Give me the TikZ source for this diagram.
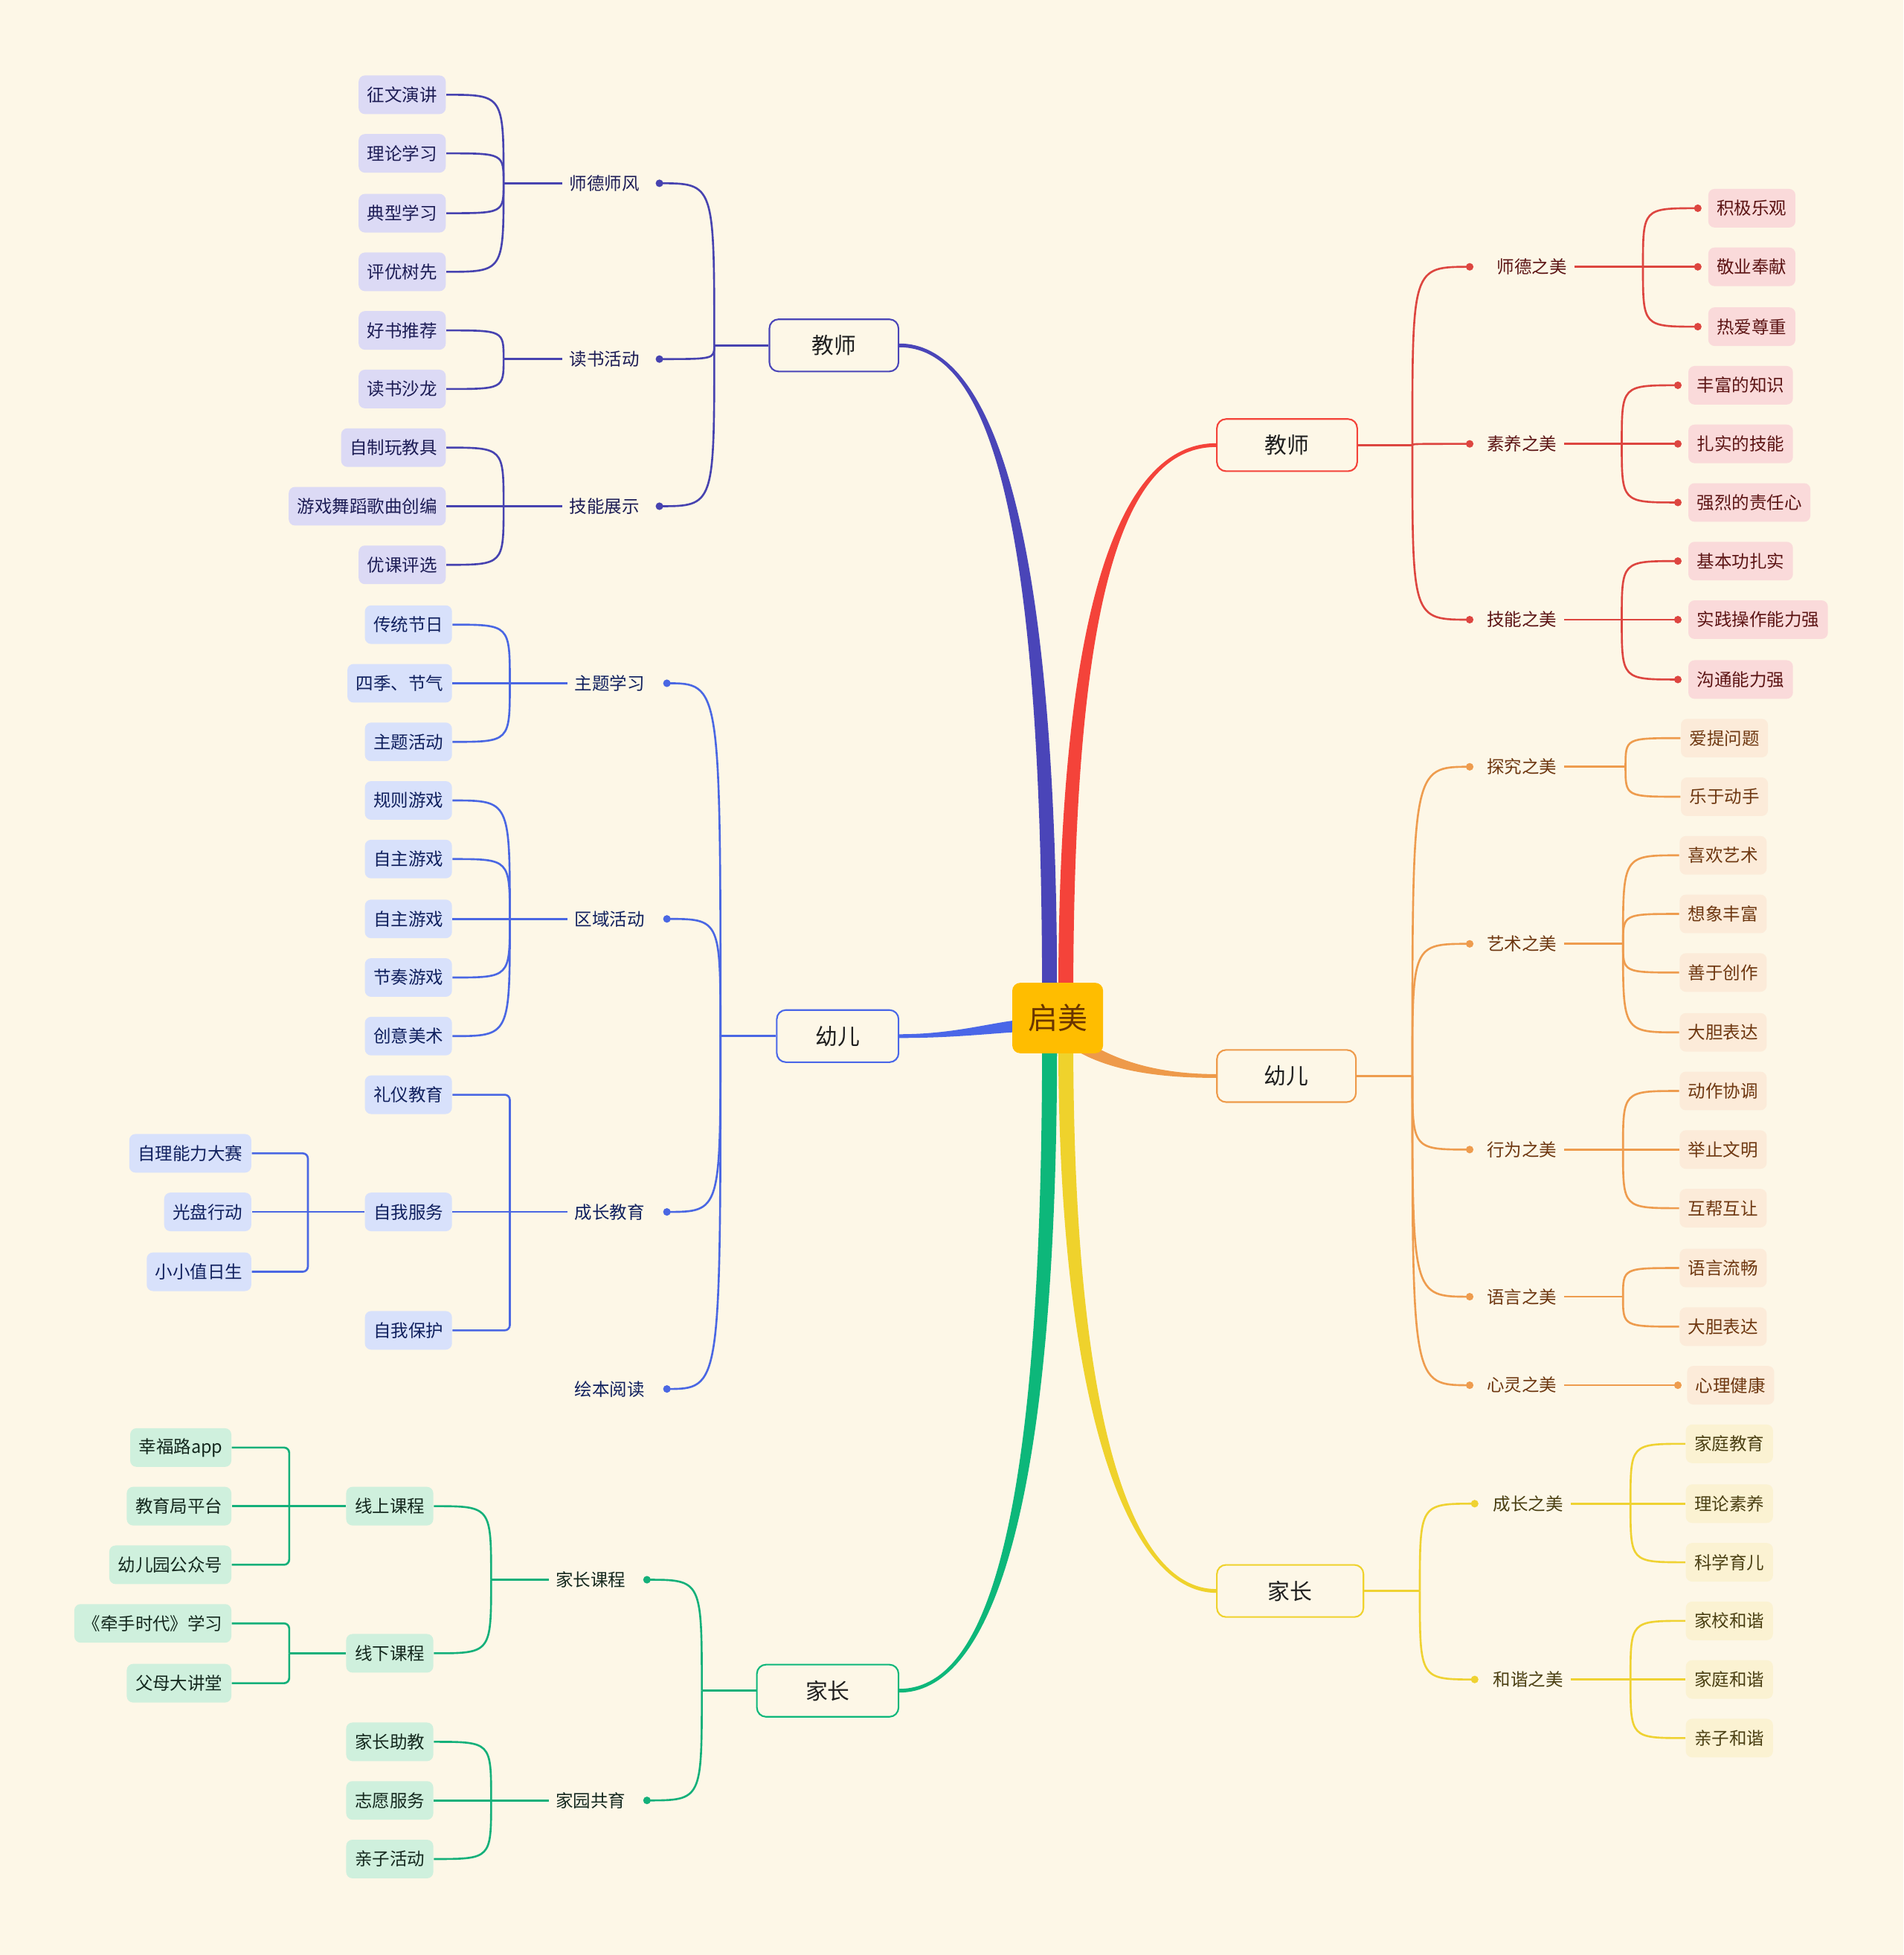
\documentclass[tikz,border=0pt]{standalone}
\usepackage{fontspec}
\setmainfont{Noto Sans CJK SC}
\usetikzlibrary{calc}

\definecolor{paper}{HTML}{FDF7E7}
\definecolor{rootfill}{HTML}{FFBD00}
\definecolor{roottext}{HTML}{6A3500}
\definecolor{indigoM}{HTML}{4A45B8}
\definecolor{indigoL}{HTML}{4743B0}
\definecolor{indigoLeaf}{HTML}{DCDAF5}
\definecolor{indigoText}{HTML}{1C1C55}
\definecolor{blueM}{HTML}{4A67E8}
\definecolor{blueL}{HTML}{4A67E3}
\definecolor{blueLeaf}{HTML}{D8E1FB}
\definecolor{blueText}{HTML}{10205E}
\definecolor{greenM}{HTML}{0DB77A}
\definecolor{greenL}{HTML}{14B07A}
\definecolor{greenLeaf}{HTML}{CFF0DD}
\definecolor{greenText}{HTML}{14281E}
\definecolor{redM}{HTML}{F4433A}
\definecolor{redL}{HTML}{DD4640}
\definecolor{redLeaf}{HTML}{FADADA}
\definecolor{redText}{HTML}{5C1414}
\definecolor{orangeM}{HTML}{EE9A4A}
\definecolor{orangeL}{HTML}{EE9C4E}
\definecolor{orangeLeaf}{HTML}{FCEBD9}
\definecolor{orangeText}{HTML}{6E3710}
\definecolor{yellowM}{HTML}{EFD22C}
\definecolor{yellowL}{HTML}{EFD232}
\definecolor{yellowLeaf}{HTML}{FBF2D2}
\definecolor{yellowText}{HTML}{4A3F12}

\pgfdeclarelayer{paper}
\pgfdeclarelayer{links}
\pgfsetlayers{paper,links,main}

% tapered main branch: colour, start, c1, c2, end, start offset, end offset
\newcommand\limb[7]{%
  \fill[#1] ($(#2)+#6$) .. controls ($(#3)+#6$) and ($(#4)+#7$) .. ($(#5)+#7$)
    -- ($(#5)-#7$) .. controls ($(#4)-#7$) and ($(#3)-#6$) .. ($(#2)-#6$) -- cycle;}

\tikzset{
  root/.style={fill=rootfill, text=roottext, rounded corners=3pt, minimum width=34.8pt,
    minimum height=27pt, inner sep=0pt, font=\fontsize{11.4}{13}\selectfont},
  topic/.style={draw=#1, fill=paper, line width=0.6pt, rounded corners=3.5pt, minimum height=20pt,
    inner sep=0pt, text=black!88, font=\fontsize{8.5}{10}\selectfont},
  sub/.style={text=#1, inner xsep=2.6pt, inner ysep=1pt},
  leaf/.style 2 args={fill=#1, text=#2, rounded corners=2.4pt, minimum height=14.8pt,
    inner xsep=3.3pt, inner ysep=0pt},
  knob/.style={circle, fill=#1, inner sep=0pt, minimum size=2.9pt},
  link/.style={draw=#1, line width=0.75pt},
  iSub/.style={sub=indigoText}, iLeaf/.style={leaf={indigoLeaf}{indigoText}, anchor=east},
  iKnob/.style={knob=indigoL}, iLink/.style={link=indigoL},
  bSub/.style={sub=blueText}, bLeaf/.style={leaf={blueLeaf}{blueText}, anchor=east},
  bKnob/.style={knob=blueL}, bLink/.style={link=blueL},
  gSub/.style={sub=greenText}, gLeaf/.style={leaf={greenLeaf}{greenText}, anchor=east},
  gKnob/.style={knob=greenL}, gLink/.style={link=greenL},
  rSub/.style={sub=redText}, rLeaf/.style={leaf={redLeaf}{redText}, anchor=west},
  rKnob/.style={knob=redL}, rLink/.style={link=redL},
  oSub/.style={sub=orangeText}, oLeaf/.style={leaf={orangeLeaf}{orangeText}, anchor=west},
  oKnob/.style={knob=orangeL}, oLink/.style={link=orangeL},
  ySub/.style={sub=yellowText}, yLeaf/.style={leaf={yellowLeaf}{yellowText}, anchor=west},
  yKnob/.style={knob=yellowL}, yLink/.style={link=yellowL},
}

\begin{document}
\begin{tikzpicture}[x=0.0168cm, y=-0.0168cm,
  every node/.style={font=\fontsize{6.7}{8}\selectfont}]

\begin{pgfonlayer}{paper}
\fill[paper] (0,0) rectangle (1527,1568);
\end{pgfonlayer}
\useasboundingbox (0,0) rectangle (1527,1568);

% centre and main topics
\node[root] (root) at (848.5,816.5) {启美};
\node[topic=indigoM, minimum width=49.5pt] (tL) at (669,277) {教师};
\node[topic=redM, minimum width=53.8pt] (tR) at (1032.5,357) {教师};
\node[topic=blueM, minimum width=46.7pt] (yL) at (672,831) {幼儿};
\node[topic=orangeM, minimum width=53.3pt] (yR) at (1032,863) {幼儿};
\node[topic=greenM, minimum width=54.3pt] (jL) at (664,1356) {家长};
\node[topic=yellowM, minimum width=56.2pt] (jR) at (1035,1276) {家长};

% teachers, left
\coordinate (tLj) at (573,277);
\node[iSub] (sdsf) at (485,147) {师德师风};
\node[iSub] (dshd) at (485,288) {读书活动};
\node[iSub] (jnzs) at (485,406) {技能展示};
\node[iKnob] (sdsfK) at (529,147) {};
\node[iKnob] (dshdK) at (529,288) {};
\node[iKnob] (jnzsK) at (529,406) {};
\coordinate (sdsfj) at (404,147);
\coordinate (dshdj) at (404,288);
\coordinate (jnzsj) at (404,406);
\node[iLeaf] (zwyj) at (358,76) {征文演讲};
\node[iLeaf] (llxx) at (358,123) {理论学习};
\node[iLeaf] (dxxx) at (358,171) {典型学习};
\node[iLeaf] (pysx) at (358,218) {评优树先};
\node[iLeaf] (hstj) at (358,265) {好书推荐};
\node[iLeaf] (dssl) at (358,312) {读书沙龙};
\node[iLeaf] (zzwj) at (358,359) {自制玩教具};
\node[iLeaf] (yxwd) at (358,406) {游戏舞蹈歌曲创编};
\node[iLeaf] (ykpx) at (358,453) {优课评选};

% children, left
\coordinate (yLj) at (578,831);
\node[bSub] (ztxx) at (489,548) {主题学习};
\node[bSub] (qyhd) at (489,737) {区域活动};
\node[bSub] (czjy) at (489,972) {成长教育};
\node[bSub] (hbyd) at (489,1114) {绘本阅读};
\node[bKnob] (ztxxK) at (535,548) {};
\node[bKnob] (qyhdK) at (535,737) {};
\node[bKnob] (czjyK) at (535,972) {};
\node[bKnob] (hbydK) at (535,1114) {};
\coordinate (ztxxj) at (409,548);
\coordinate (qyhdj) at (409,737);
\coordinate (czjyj) at (409,972);
\node[bLeaf] (ctjr) at (363,501) {传统节日};
\node[bLeaf] (sjjq) at (363,548) {四季、节气};
\node[bLeaf] (zthd) at (363,595) {主题活动};
\node[bLeaf] (gzyx) at (363,642) {规则游戏};
\node[bLeaf] (zzyxA) at (363,689) {自主游戏};
\node[bLeaf] (zzyxB) at (363,737) {自主游戏};
\node[bLeaf] (jzyx) at (363,784) {节奏游戏};
\node[bLeaf] (cyms) at (363,831) {创意美术};
\node[bLeaf] (lyjy) at (363,878) {礼仪教育};
\node[bLeaf] (zwfw) at (363,972) {自我服务};
\node[bLeaf] (zwbh) at (363,1067) {自我保护};
\coordinate (zwfwj) at (247,972);
\node[bLeaf] (zlnl) at (202,925) {自理能力大赛};
\node[bLeaf] (gpxd) at (202,972) {光盘行动};
\node[bLeaf] (xxzr) at (202,1020) {小小值日生};

% parents, left
\coordinate (jLj) at (563,1356);
\node[gSub] (jzkc) at (474,1267) {家长课程};
\node[gSub] (jygy) at (474,1444) {家园共育};
\node[gKnob] (jzkcK) at (519,1267) {};
\node[gKnob] (jygyK) at (519,1444) {};
\coordinate (jzkcj) at (394,1267);
\coordinate (jygyj) at (394,1444);
\node[gLeaf] (xskc) at (348,1208) {线上课程};
\node[gLeaf] (xxkc) at (348,1326) {线下课程};
\node[gLeaf] (jzzj) at (348,1397) {家长助教};
\node[gLeaf] (zyfw) at (348,1444) {志愿服务};
\node[gLeaf] (qzhd) at (348,1491) {亲子活动};
\coordinate (xskcj) at (232,1208);
\coordinate (xxkcj) at (232,1326);
\node[gLeaf] (xflapp) at (186,1161) {幸福路app};
\node[gLeaf] (jyjpt) at (186,1208) {教育局平台};
\node[gLeaf] (yeygzh) at (186,1255) {幼儿园公众号};
\node[gLeaf] (qssd) at (186,1302) {《牵手时代》学习};
\node[gLeaf] (fmdjt) at (186,1350) {父母大讲堂};

% teachers, right
\coordinate (tRj) at (1133,357);
\node[rSub] (sdzm) at (1229,214) {师德之美};
\node[rSub] (syzm) at (1221,356) {素养之美};
\node[rSub] (jnzm) at (1221,497) {技能之美};
\node[rKnob] (sdzmK) at (1179,214) {};
\node[rKnob] (syzmK) at (1179,356) {};
\node[rKnob] (jnzmK) at (1179,497) {};
\coordinate (sdzmj) at (1318,214);
\coordinate (syzmj) at (1301,356);
\coordinate (jnzmj) at (1301,497);
\node[rLeaf] (jjlg) at (1370,167) {积极乐观};
\node[rLeaf] (jyfx) at (1370,214) {敬业奉献};
\node[rLeaf] (razz) at (1370,262) {热爱尊重};
\node[rLeaf] (ffzs) at (1354,309) {丰富的知识};
\node[rLeaf] (zsjn) at (1354,356) {扎实的技能};
\node[rLeaf] (qlzr) at (1354,403) {强烈的责任心};
\node[rLeaf] (jbgz) at (1354,450) {基本功扎实};
\node[rLeaf] (sjcz) at (1354,497) {实践操作能力强};
\node[rLeaf] (gtnl) at (1354,545) {沟通能力强};
\node[rKnob] (jjlgK) at (1362,167) {};
\node[rKnob] (jyfxK) at (1362,214) {};
\node[rKnob] (razzK) at (1362,262) {};
\node[rKnob] (ffzsK) at (1346,309) {};
\node[rKnob] (zsjnK) at (1346,356) {};
\node[rKnob] (qlzrK) at (1346,403) {};
\node[rKnob] (jbgzK) at (1346,450) {};
\node[rKnob] (sjczK) at (1346,497) {};
\node[rKnob] (gtnlK) at (1346,545) {};

% children, right
\coordinate (yRj) at (1133,863);
\node[oSub] (tjzm) at (1221,615) {探究之美};
\node[oSub] (yszm) at (1221,757) {艺术之美};
\node[oSub] (xwzm) at (1221,922) {行为之美};
\node[oSub] (yyzm) at (1221,1040) {语言之美};
\node[oSub] (xlzm) at (1221,1111) {心灵之美};
\node[oKnob] (tjzmK) at (1179,615) {};
\node[oKnob] (yszmK) at (1179,757) {};
\node[oKnob] (xwzmK) at (1179,922) {};
\node[oKnob] (yyzmK) at (1179,1040) {};
\node[oKnob] (xlzmK) at (1179,1111) {};
\coordinate (tjzmj) at (1304,615);
\coordinate (yszmj) at (1302,757);
\coordinate (xwzmj) at (1302,922);
\coordinate (yyzmj) at (1302,1040);
\node[oLeaf] (atwt) at (1348,592) {爱提问题};
\node[oLeaf] (lydx) at (1348,639) {乐于动手};
\node[oLeaf] (xhys) at (1347,686) {喜欢艺术};
\node[oLeaf] (xxff) at (1347,733) {想象丰富};
\node[oLeaf] (syzz) at (1347,780) {善于创作};
\node[oLeaf] (ddbdA) at (1347,828) {大胆表达};
\node[oLeaf] (dzxt) at (1347,875) {动作协调};
\node[oLeaf] (jzwm) at (1347,922) {举止文明};
\node[oLeaf] (hbhr) at (1347,969) {互帮互让};
\node[oLeaf] (yylc) at (1347,1017) {语言流畅};
\node[oLeaf] (ddbdB) at (1347,1064) {大胆表达};
\node[oLeaf] (xljk) at (1353,1111) {心理健康};
\node[oKnob] (xljkK) at (1346,1111) {};

% parents, right
\coordinate (jRj) at (1139,1276);
\node[ySub] (czzm) at (1226,1206) {成长之美};
\node[ySub] (hxzm) at (1226,1347) {和谐之美};
\node[yKnob] (czzmK) at (1183,1206) {};
\node[yKnob] (hxzmK) at (1183,1347) {};
\coordinate (czzmj) at (1308,1206);
\coordinate (hxzmj) at (1308,1347);
\node[yLeaf] (jtjy) at (1352,1158) {家庭教育};
\node[yLeaf] (llsy) at (1352,1206) {理论素养};
\node[yLeaf] (kxye) at (1352,1253) {科学育儿};
\node[yLeaf] (jxhx) at (1352,1300) {家校和谐};
\node[yLeaf] (jthx) at (1352,1347) {家庭和谐};
\node[yLeaf] (qzhx) at (1352,1394) {亲子和谐};

\begin{pgfonlayer}{links}
% main branches
\limb{indigoM}{tL.east}{790,277}{842,400}{842,800}{(0,-1.5)}{(6,0)}
\limb{redM}{tR.west}{908,357}{855,455}{855,800}{(0,-1.5)}{(-6,0)}
\limb{blueM}{yL.east}{770,831}{800,823}{830,822}{(0,-1.5)}{(0,-5)}
\limb{orangeM}{yR.west}{930,863}{885,855}{855,830}{(0,-1.5)}{(4,-4)}
\limb{greenM}{jL.east}{790,1356}{842,1230}{842,835}{(0,1.5)}{(6,0)}
\limb{yellowM}{jR.west}{905,1276}{855,1130}{855,835}{(0,1.5)}{(-6,0)}

% teachers, left
\draw[iLink] (tL.west) -- (tLj);
\foreach \n in {sdsfK,dshdK,jnzsK}
  \draw[iLink] (tLj) .. controls (tLj |- \n) .. (\n.center);
\draw[iLink] (sdsf.west) -- (sdsfj);
\draw[iLink] (dshd.west) -- (dshdj);
\draw[iLink] (jnzs.west) -- (yxwd.east);
\foreach \n in {zwyj,llxx,dxxx,pysx}
  \draw[iLink] (sdsfj) .. controls (sdsfj |- \n.east) .. (\n.east);
\foreach \n in {hstj,dssl}
  \draw[iLink] (dshdj) .. controls (dshdj |- \n.east) .. (\n.east);
\foreach \n in {zzwj,ykpx}
  \draw[iLink] (jnzsj) .. controls (jnzsj |- \n.east) .. (\n.east);

% children, left
\draw[bLink] (yL.west) -- (yLj);
\foreach \n in {ztxxK,qyhdK,czjyK,hbydK}
  \draw[bLink] (yLj) .. controls (yLj |- \n) .. (\n.center);
\draw[bLink] (ztxx.west) -- (sjjq.east);
\draw[bLink] (qyhd.west) -- (zzyxB.east);
\foreach \n in {ctjr,zthd}
  \draw[bLink] (ztxxj) .. controls (ztxxj |- \n.east) .. (\n.east);
\foreach \n in {gzyx,zzyxA,jzyx,cyms}
  \draw[bLink] (qyhdj) .. controls (qyhdj |- \n.east) .. (\n.east);
\draw[bLink] (czjy.west) -- (zwfw.east);
\draw[bLink, rounded corners=2pt] (czjyj) |- (lyjy.east);
\draw[bLink, rounded corners=2pt] (czjyj) |- (zwbh.east);
\draw[bLink] (zwfw.west) -- (gpxd.east);
\draw[bLink, rounded corners=2pt] (zwfwj) |- (zlnl.east);
\draw[bLink, rounded corners=2pt] (zwfwj) |- (xxzr.east);

% parents, left
\draw[gLink] (jL.west) -- (jLj);
\foreach \n in {jzkcK,jygyK}
  \draw[gLink] (jLj) .. controls (jLj |- \n) .. (\n.center);
\draw[gLink] (jzkc.west) -- (jzkcj);
\draw[gLink] (jygy.west) -- (zyfw.east);
\foreach \n in {xskc,xxkc}
  \draw[gLink] (jzkcj) .. controls (jzkcj |- \n.east) .. (\n.east);
\foreach \n in {jzzj,qzhd}
  \draw[gLink] (jygyj) .. controls (jygyj |- \n.east) .. (\n.east);
\draw[gLink] (xskc.west) -- (jyjpt.east);
\draw[gLink, rounded corners=2pt] (xskcj) |- (xflapp.east);
\draw[gLink, rounded corners=2pt] (xskcj) |- (yeygzh.east);
\draw[gLink] (xxkc.west) -- (xxkcj);
\draw[gLink, rounded corners=2pt] (xxkcj) |- (qssd.east);
\draw[gLink, rounded corners=2pt] (xxkcj) |- (fmdjt.east);

% teachers, right
\draw[rLink] (tR.east) -- (tRj);
\foreach \n in {sdzmK,syzmK,jnzmK}
  \draw[rLink] (tRj) .. controls (tRj |- \n) .. (\n.center);
\draw[rLink] (sdzm.east) -- (jyfxK.center);
\draw[rLink] (syzm.east) -- (zsjnK.center);
\draw[rLink] (jnzm.east) -- (sjczK.center);
\foreach \n in {jjlgK,razzK}
  \draw[rLink] (sdzmj) .. controls (sdzmj |- \n) .. (\n.center);
\foreach \n in {ffzsK,qlzrK}
  \draw[rLink] (syzmj) .. controls (syzmj |- \n) .. (\n.center);
\foreach \n in {jbgzK,gtnlK}
  \draw[rLink] (jnzmj) .. controls (jnzmj |- \n) .. (\n.center);

% children, right
\draw[oLink] (yR.east) -- (yRj);
\foreach \n in {tjzmK,yszmK,xwzmK,yyzmK,xlzmK}
  \draw[oLink] (yRj) .. controls (yRj |- \n) .. (\n.center);
\draw[oLink] (tjzm.east) -- (tjzmj);
\draw[oLink] (yszm.east) -- (yszmj);
\draw[oLink] (xwzm.east) -- (jzwm.west);
\draw[oLink] (yyzm.east) -- (yyzmj);
\draw[oLink] (xlzm.east) -- (xljkK.center);
\foreach \n in {atwt,lydx}
  \draw[oLink] (tjzmj) .. controls (tjzmj |- \n.west) .. (\n.west);
\foreach \n in {xhys,xxff,syzz,ddbdA}
  \draw[oLink] (yszmj) .. controls (yszmj |- \n.west) .. (\n.west);
\foreach \n in {dzxt,hbhr}
  \draw[oLink] (xwzmj) .. controls (xwzmj |- \n.west) .. (\n.west);
\foreach \n in {yylc,ddbdB}
  \draw[oLink] (yyzmj) .. controls (yyzmj |- \n.west) .. (\n.west);

% parents, right
\draw[yLink] (jR.east) -- (jRj);
\foreach \n in {czzmK,hxzmK}
  \draw[yLink] (jRj) .. controls (jRj |- \n) .. (\n.center);
\draw[yLink] (czzm.east) -- (llsy.west);
\draw[yLink] (hxzm.east) -- (jthx.west);
\foreach \n in {jtjy,kxye}
  \draw[yLink] (czzmj) .. controls (czzmj |- \n.west) .. (\n.west);
\foreach \n in {jxhx,qzhx}
  \draw[yLink] (hxzmj) .. controls (hxzmj |- \n.west) .. (\n.west);
\end{pgfonlayer}
\end{tikzpicture}
\end{document}
